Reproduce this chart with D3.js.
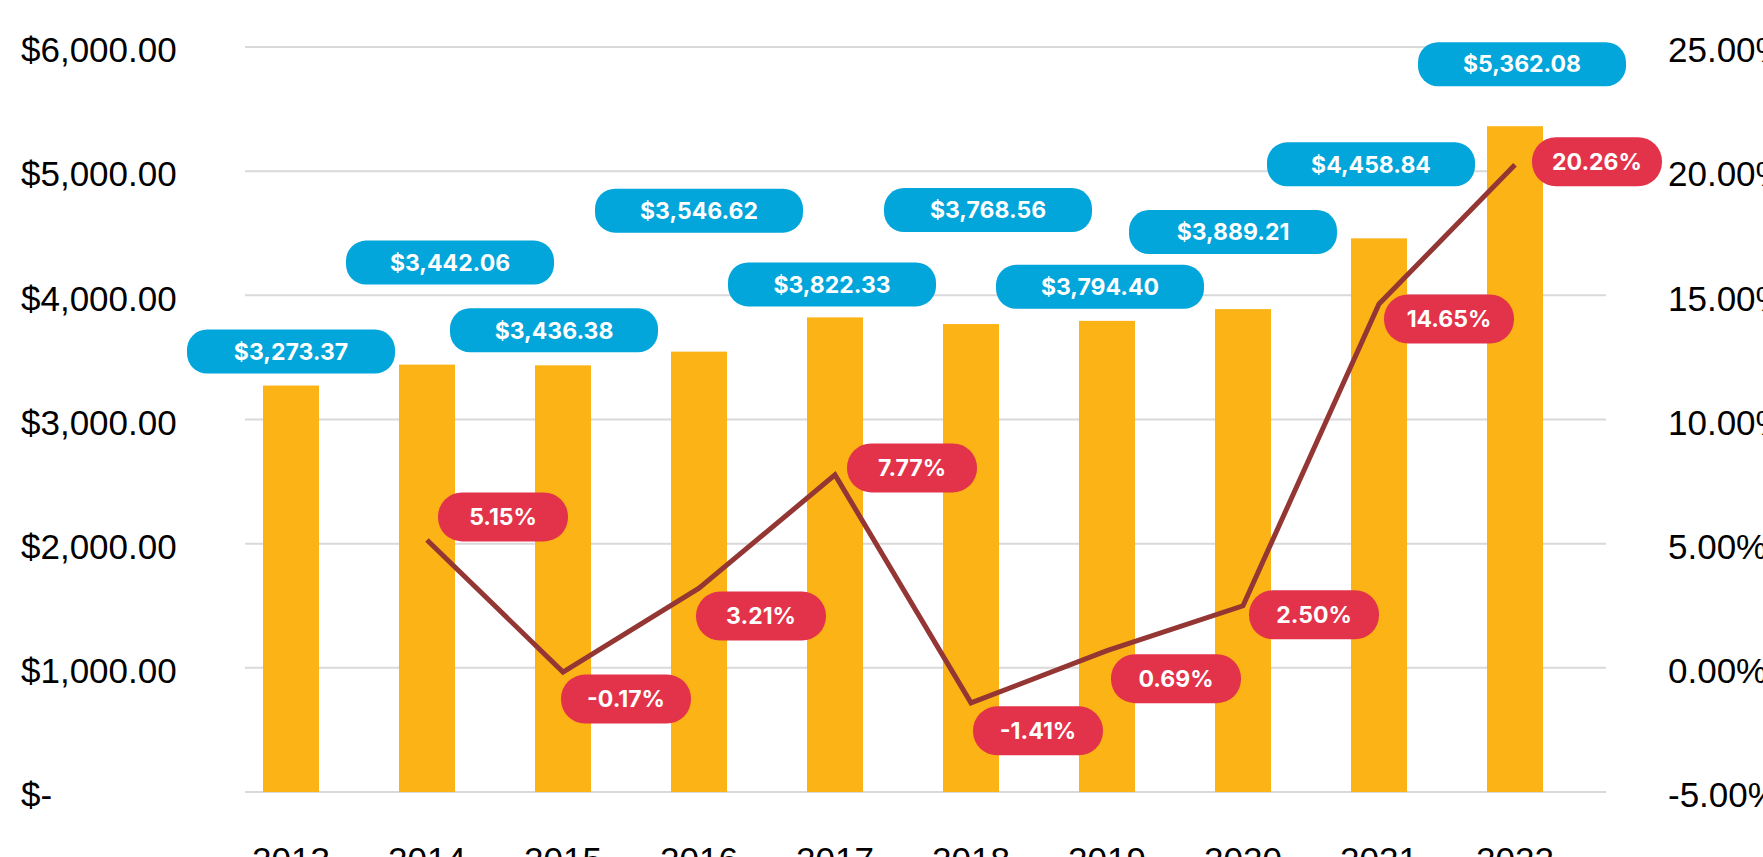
<!DOCTYPE html>
<html>
<head>
<meta charset="utf-8">
<script src="https://cdn.jsdelivr.net/npm/d3@7"></script>
<style>
  html, body { margin: 0; padding: 0; background: #fff; overflow: hidden; }
  svg { display: block; font-family: Inter, "Open Sans", sans-serif; }
  .tick text { font-size: 35px; fill: #000; }
  .pill text { font-size: 23px; font-weight: 700; fill: #fff; }
</style>
</head>
<body>
<svg id="chart"></svg>
<script>
// data
const years = ['2013', '2014', '2015', '2016', '2017', '2018', '2019', '2020', '2021', '2022'];
const amounts = [3273.37, 3442.06, 3436.38, 3546.62, 3822.33, 3768.56, 3794.40, 3889.21, 4458.84, 5362.08];
const growth = [null, 5.15, -0.17, 3.21, 7.77, -1.41, 0.69, 2.50, 14.65, 20.26];
const amountTicks = [0, 1000, 2000, 3000, 4000, 5000, 6000];
const growthTicks = [-5, 0, 5, 10, 15, 20, 25];

// label placement (pixels, relative to bar top / line point) - they were dragged by hand in the original
const amountLabelShift = [[0, -34], [23, -102], [-9, -35], [0, -141], [-3, -33], [17, -114], [-7, -34], [-10, -77], [-8, -74], [7, -62]];
const growthLabelShift = [null, [76, -23], [63, 27], [62, 28], [77, -7], [67, 28], [69, 28], [71, 9], [70, 15], [82, -3]];

const width = 1763, height = 857;
const gridLeft = 245, gridRight = 1606;
const plotTop = 47, plotBottom = 792;

// plain hyphen for negatives, like the original
const locale = d3.formatLocale({ decimal: '.', thousands: ',', grouping: [3], currency: ['$', ''], minus: '-' });
const money = d => '$' + locale.format(',.2f')(d);
const pct = d => locale.format('.2f')(d) + '%';

const svg = d3.select('#chart')
  .attr('width', width)
  .attr('height', height);

const x = d3.scaleBand()
  .domain(years)
  .range([223, 1583])
  .paddingInner(0.588)
  .paddingOuter(0.294);

const y = d3.scaleLinear()
  .domain([0, 6000])
  .range([plotBottom, plotTop]);

const y2 = d3.scaleLinear()
  .domain([-5, 25])
  .range([plotBottom, plotTop]);

// grid
svg.append('g')
  .selectAll('line')
  .data(amountTicks).enter()
  .append('line')
  .attr('x1', gridLeft)
  .attr('x2', gridRight)
  .attr('y1', d => y(d))
  .attr('y2', d => y(d))
  .attr('stroke', '#d9d9d9')
  .attr('stroke-width', 2);

// left axis
const leftAxis = svg.append('g')
  .attr('transform', 'translate(21,0)')
  .call(d3.axisLeft(y)
    .tickValues(amountTicks)
    .tickSize(0)
    .tickFormat(d => d === 0 ? '$-' : money(d)));
leftAxis.select('.domain').remove();
leftAxis.selectAll('text')
  .attr('x', 0)
  .attr('dy', '0.42em')
  .attr('text-anchor', 'start');

// right axis
const rightAxis = svg.append('g')
  .attr('transform', 'translate(1668,0)')
  .call(d3.axisRight(y2)
    .tickValues(growthTicks)
    .tickSize(0)
    .tickFormat(pct));
rightAxis.select('.domain').remove();
rightAxis.selectAll('text')
  .attr('x', 0)
  .attr('dy', '0.42em');

// bottom axis
const bottomAxis = svg.append('g')
  .attr('transform', 'translate(0,' + plotBottom + ')')
  .call(d3.axisBottom(x).tickSize(0));
bottomAxis.select('.domain').remove();
bottomAxis.selectAll('text')
  .attr('y', 80)
  .attr('dy', 0);

// bars
svg.append('g')
  .selectAll('rect')
  .data(amounts).enter()
  .append('rect')
  .attr('x', (d, i) => x(years[i]))
  .attr('y', d => y(d))
  .attr('width', x.bandwidth())
  .attr('height', d => plotBottom - y(d))
  .attr('fill', '#fcb316');

// growth line
const cx = i => x(years[i]) + x.bandwidth() / 2;
const line = d3.line()
  .defined(d => d != null)
  .x((d, i) => cx(i))
  .y(d => y2(d));

svg.append('path')
  .datum(growth)
  .attr('d', line)
  .attr('fill', 'none')
  .attr('stroke', '#943634')
  .attr('stroke-width', 5)
  .attr('stroke-linejoin', 'miter');

// amount labels
const blue = svg.append('g').attr('class', 'pill')
  .selectAll('g')
  .data(amounts).enter()
  .append('g')
  .attr('transform', (d, i) => 'translate(' + (cx(i) + amountLabelShift[i][0]) + ',' + (y(d) + amountLabelShift[i][1]) + ')');

blue.append('rect')
  .attr('x', -104)
  .attr('y', -22)
  .attr('width', 208)
  .attr('height', 44)
  .attr('rx', 20)
  .attr('fill', '#02a6db');

blue.append('text')
  .attr('text-anchor', 'middle')
  .attr('dy', '0.36em')
  .text(money);

// growth labels
const growthPts = growth.map((g, i) => ({ g, i })).filter(d => d.g != null);

const red = svg.append('g').attr('class', 'pill')
  .selectAll('g')
  .data(growthPts).enter()
  .append('g')
  .attr('transform', d => 'translate(' + (cx(d.i) + growthLabelShift[d.i][0]) + ',' + (y2(d.g) + growthLabelShift[d.i][1]) + ')');

red.append('rect')
  .attr('x', -65)
  .attr('y', -24.5)
  .attr('width', 130)
  .attr('height', 49)
  .attr('rx', 24)
  .attr('fill', '#e2334a');

red.append('text')
  .attr('text-anchor', 'middle')
  .attr('dy', '0.36em')
  .text(d => pct(d.g));
</script>
</body>
</html>
